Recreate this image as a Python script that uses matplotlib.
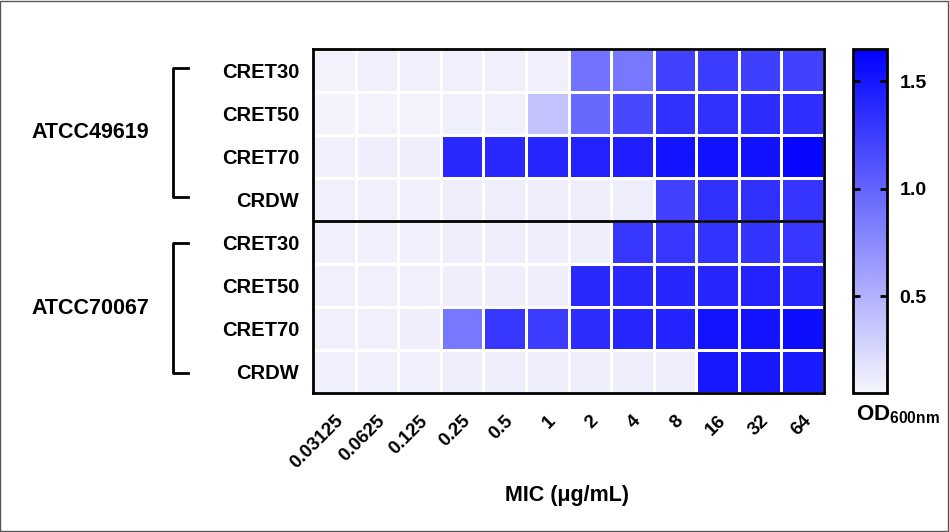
import numpy as np
import matplotlib
matplotlib.use("Agg")
import matplotlib.pyplot as plt
from matplotlib.colors import LinearSegmentedColormap
from matplotlib.patches import Rectangle
from matplotlib.lines import Line2D

plt.rcParams['font.family'] = ['Liberation Sans', 'DejaVu Sans']
plt.rcParams['font.weight'] = 'bold'
plt.rcParams['mathtext.fontset'] = 'custom'
plt.rcParams['mathtext.rm'] = 'Liberation Sans:bold'
plt.rcParams['mathtext.it'] = 'Liberation Sans:bold'
plt.rcParams['mathtext.bf'] = 'Liberation Sans:bold'

# # # # # data # # # # #

mic_labels = ['0.03125', '0.0625', '0.125', '0.25', '0.5', '1', '2', '4', '8', '16', '32', '64']
row_labels = ['CRET30', 'CRET50', 'CRET70', 'CRDW', 'CRET30', 'CRET50', 'CRET70', 'CRDW']
groups = ['ATCC49619', 'ATCC70067']

# OD600 values, ATCC49619
atcc49619_cret30 = [0.08, 0.09, 0.09, 0.09, 0.09, 0.09, 0.91, 0.87, 1.23, 1.25, 1.24, 1.23]
atcc49619_cret50 = [0.07, 0.08, 0.08, 0.09, 0.09, 0.39, 0.97, 1.18, 1.33, 1.33, 1.35, 1.34]
atcc49619_cret70 = [0.09, 0.10, 0.10, 1.38, 1.38, 1.40, 1.42, 1.45, 1.52, 1.53, 1.53, 1.60]
atcc49619_crdw = [0.09, 0.09, 0.09, 0.10, 0.10, 0.10, 0.10, 0.10, 1.23, 1.33, 1.33, 1.30]

# OD600 values, ATCC70067
atcc70067_cret30 = [0.09, 0.09, 0.09, 0.10, 0.10, 0.10, 0.10, 1.29, 1.29, 1.31, 1.31, 1.29]
atcc70067_cret50 = [0.09, 0.09, 0.09, 0.10, 0.10, 0.10, 1.38, 1.38, 1.40, 1.40, 1.42, 1.40]
atcc70067_cret70 = [0.09, 0.09, 0.10, 0.87, 1.29, 1.26, 1.36, 1.40, 1.42, 1.52, 1.52, 1.56]
atcc70067_crdw = [0.09, 0.09, 0.09, 0.10, 0.10, 0.10, 0.10, 0.10, 0.10, 1.49, 1.49, 1.47]

od_ticks = [0.5, 1.0, 1.5]
od_min, od_max = 0.05, 1.65


# # # # # figure # # # # #

data = np.array([atcc49619_cret30, atcc49619_cret50, atcc49619_cret70, atcc49619_crdw,
	atcc70067_cret30, atcc70067_cret50, atcc70067_cret70, atcc70067_crdw])

W, H = 949, 532
fig = plt.figure(figsize=(W / 100, H / 100), dpi=100)

def fx(px):
	return px / W

def fy(py):
	return 1 - py / H

# outer border
fig.patches.append(Rectangle((0.0005, 0.001), 0.998, 0.997, transform=fig.transFigure,
	fill=False, edgecolor='#555555', linewidth=1))

cmap = LinearSegmentedColormap.from_list('od', ['#f6f6fd', '#0000ff'])

heat_ax = fig.add_axes([fx(313), fy(393), fx(824) - fx(313), fy(49) - fy(393)])
mesh = heat_ax.pcolormesh(data, cmap=cmap, vmin=od_min, vmax=od_max,
	edgecolors='white', linewidth=2)
heat_ax.set_xlim(0, data.shape[1])
heat_ax.set_ylim(data.shape[0], 0)
for sp in heat_ax.spines.values():
	sp.set_linewidth(2)
heat_ax.axhline(4, color='black', linewidth=2)

heat_ax.set_yticks(np.arange(len(row_labels)) + 0.5)
heat_ax.set_yticklabels(row_labels, fontsize=14.5, fontweight='bold')
heat_ax.set_xticks(np.arange(len(mic_labels)) + 0.5)
heat_ax.set_xticklabels(mic_labels, fontsize=13.5, fontweight='bold', rotation=45,
	ha='right', rotation_mode='anchor')
heat_ax.tick_params(axis='y', length=0, pad=10)
heat_ax.tick_params(axis='x', length=0, pad=14)

# x label
fig.text(fx(567), fy(495), 'MIC (μg/mL)', fontsize=15.5, fontweight='bold',
	ha='center', va='center')

# group brackets
for i, name in enumerate(groups):
	top = fy(68 + i * 175)
	bot = fy(197 + i * 176)
	fig.add_artist(Line2D([fx(188), fx(173), fx(173), fx(188)], [top, top, bot, bot],
		color='black', linewidth=2))
	fig.text(fx(90), (top + bot) / 2, name, fontsize=15.5, fontweight='bold',
		ha='center', va='center')

# colorbar
cbar_ax = fig.add_axes([fx(853), fy(393), fx(887) - fx(853), fy(49) - fy(393)])
cbar = fig.colorbar(mesh, cax=cbar_ax, ticks=od_ticks)
cbar.outline.set_linewidth(2)
cbar_ax.set_yticklabels(['%.1f' % t for t in od_ticks], fontsize=14, fontweight='bold')
cbar_ax.tick_params(axis='y', direction='in', length=5, width=2, left=True, right=True, pad=9)

fig.text(fx(898), fy(415), r'OD$_{600nm}$', fontsize=16, fontweight='bold',
	ha='center', va='center')

fig.savefig('out.png', dpi=100)
